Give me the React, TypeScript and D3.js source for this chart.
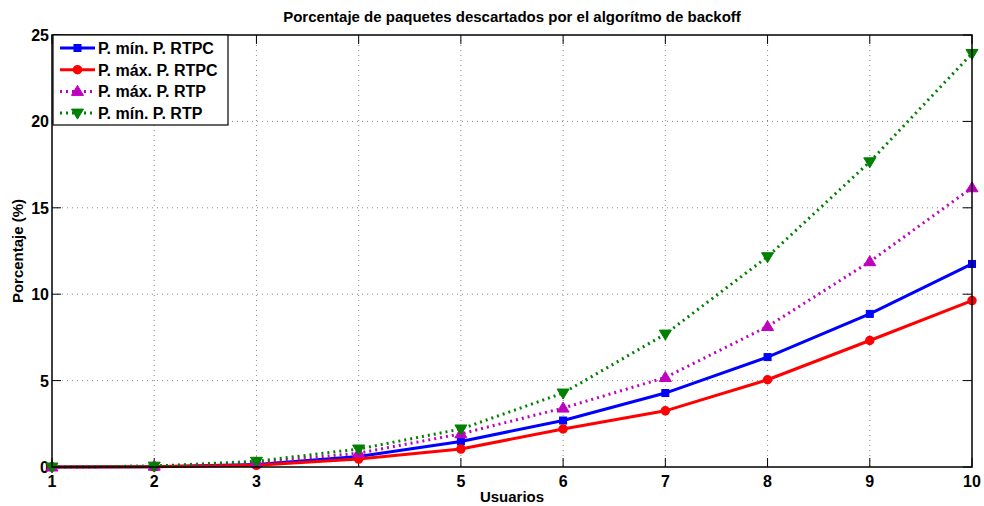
import React from "react";
import * as d3 from "d3";

const users = [1, 2, 3, 4, 5, 6, 7, 8, 9, 10];
const minRTPC = [0, 0.02, 0.15, 0.61, 1.48, 2.69, 4.28, 6.36, 8.86, 11.75];
const maxRTPC = [0, 0.01, 0.1, 0.46, 1.04, 2.2, 3.25, 5.05, 7.32, 9.63];
const maxRTP = [0, 0.05, 0.25, 0.8, 1.92, 3.41, 5.18, 8.13, 11.88, 16.16];
const minRTP = [0, 0.05, 0.33, 1.04, 2.2, 4.28, 7.69, 12.17, 17.66, 23.93];
const yTicks = [0, 5, 10, 15, 20, 25];
const seriesNames = ["P. mín. P. RTPC", "P. máx. P. RTPC", "P. máx. P. RTP", "P. mín. P. RTP"];

const W = 984, H = 506;
const L = 52, R = 972, T = 35, B = 467;

export default function App() {
  const x = d3.scaleLinear().domain([1, 10]).range([L, R]);
  const y = d3.scaleLinear().domain([0, 25]).range([B, T]);
  const line = d3.line<number>().x((_, i) => x(users[i])).y((d) => y(d));
  const font = "'Liberation Sans', Arial, sans-serif";

  const series = [
    { name: seriesNames[0], data: minRTPC, color: "#0000ff", dash: undefined, marker: "square" },
    { name: seriesNames[1], data: maxRTPC, color: "#ff0000", dash: undefined, marker: "circle" },
    { name: seriesNames[2], data: maxRTP, color: "#bf00bf", dash: "2 4", marker: "up" },
    { name: seriesNames[3], data: minRTP, color: "#008000", dash: "2 4", marker: "down" },
  ];

  const marker = (type: string, cx: number, cy: number, color: string, key: any) => {
    if (type === "square") return <rect key={key} x={cx - 3.5} y={cy - 3.5} width={7} height={7} fill={color} stroke={color} strokeWidth={1} />;
    if (type === "circle") return <circle key={key} cx={cx} cy={cy} r={4} fill={color} stroke={color} strokeWidth={1.5} />;
    if (type === "up") return <path key={key} d={`M${cx},${cy - 6}L${cx + 6},${cy + 4}L${cx - 6},${cy + 4}Z`} fill={color} stroke={color} strokeWidth={1} />;
    return <path key={key} d={`M${cx},${cy + 6}L${cx + 6},${cy - 4}L${cx - 6},${cy - 4}Z`} fill={color} stroke={color} strokeWidth={1} />;
  };

  return (
    <svg width={W} height={H} style={{ position: "absolute", left: 0, top: 0, background: "#fff" }} fontFamily={font}>
      <rect x={0} y={0} width={W} height={H} fill="#fff" />
      {/* grid */}
      {users.slice(1, -1).map((u) => (
        <line key={"gx" + u} x1={x(u)} x2={x(u)} y1={T} y2={B} stroke="#888" strokeWidth={1} strokeDasharray="1 4" />
      ))}
      {yTicks.slice(1, -1).map((t) => (
        <line key={"gy" + t} x1={L} x2={R} y1={y(t)} y2={y(t)} stroke="#888" strokeWidth={1} strokeDasharray="1 4" />
      ))}
      {/* ticks */}
      {users.map((u) => (
        <g key={"tx" + u}>
          <line x1={x(u)} x2={x(u)} y1={B} y2={B - 9} stroke="#000" strokeWidth={1} />
          <line x1={x(u)} x2={x(u)} y1={T} y2={T + 9} stroke="#000" strokeWidth={1} />
          <text x={x(u)} y={B + 20} textAnchor="middle" fontSize={16} fontWeight="bold">{u}</text>
        </g>
      ))}
      {yTicks.map((t) => (
        <g key={"ty" + t}>
          <line x1={L} x2={L + 9} y1={y(t)} y2={y(t)} stroke="#000" strokeWidth={1} />
          <line x1={R} x2={R - 9} y1={y(t)} y2={y(t)} stroke="#000" strokeWidth={1} />
          <text x={L - 3} y={y(t) + 6} textAnchor="end" fontSize={16} fontWeight="bold">{t}</text>
        </g>
      ))}
      {/* series */}
      {series.map((s, si) => (
        <g key={"s" + si}>
          <path d={line(s.data) || ""} fill="none" stroke={s.color} strokeWidth={3} strokeDasharray={s.dash} />
          {s.data.map((v, i) => marker(s.marker, x(users[i]), y(v), s.color, i))}
        </g>
      ))}
      {/* frame */}
      <rect x={L} y={T} width={R - L} height={B - T} fill="none" stroke="#000" strokeWidth={1.5} />
      {/* legend */}
      <rect x={53} y={35} width={175} height={90} fill="#fff" stroke="#000" strokeWidth={1.2} />
      {series.map((s, i) => {
        const ly = 48 + i * 21.7;
        return (
          <g key={"l" + i}>
            <line x1={60} x2={95} y1={ly} y2={ly} stroke={s.color} strokeWidth={3} strokeDasharray={s.dash} />
            {marker(s.marker, 77.5, ly, s.color, "m")}
            <text x={98} y={ly + 6} fontSize={16} fontWeight="bold">{s.name}</text>
          </g>
        );
      })}
      {/* labels */}
      <text x={(L + R) / 2} y={22} textAnchor="middle" fontSize={15} fontWeight="bold">Porcentaje de paquetes descartados por el algorítmo de backoff</text>
      <text x={(L + R) / 2} y={502} textAnchor="middle" fontSize={15} fontWeight="bold">Usuarios</text>
      <text transform={`translate(23,${(T + B) / 2}) rotate(-90)`} textAnchor="middle" fontSize={15} fontWeight="bold">Porcentaje (%)</text>
    </svg>
  );
}
